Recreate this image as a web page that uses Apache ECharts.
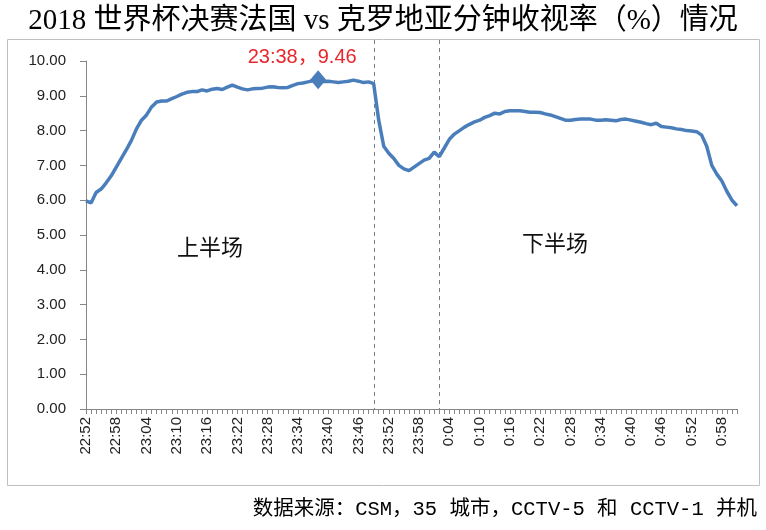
<!DOCTYPE html>
<html><head><meta charset="utf-8">
<script src="https://cdn.jsdelivr.net/npm/echarts@6/dist/echarts.min.js"></script>
<style>html,body{margin:0;padding:0;background:#fff}#c{width:766px;height:530px}</style>
</head><body><div id="c"></div>
<script>
// minute categories 22:52 .. 1:01
var categories = ["22:52","22:53","22:54","22:55","22:56","22:57","22:58","22:59",
"23:00","23:01","23:02","23:03","23:04","23:05","23:06","23:07","23:08","23:09",
"23:10","23:11","23:12","23:13","23:14","23:15","23:16","23:17","23:18","23:19",
"23:20","23:21","23:22","23:23","23:24","23:25","23:26","23:27","23:28","23:29",
"23:30","23:31","23:32","23:33","23:34","23:35","23:36","23:37","23:38","23:39",
"23:40","23:41","23:42","23:43","23:44","23:45","23:46","23:47","23:48","23:49",
"23:50","23:51","23:52","23:53","23:54","23:55","23:56","23:57","23:58","23:59",
"0:00","0:01","0:02","0:03","0:04","0:05","0:06","0:07","0:08","0:09",
"0:10","0:11","0:12","0:13","0:14","0:15","0:16","0:17","0:18","0:19",
"0:20","0:21","0:22","0:23","0:24","0:25","0:26","0:27","0:28","0:29",
"0:30","0:31","0:32","0:33","0:34","0:35","0:36","0:37","0:38","0:39",
"0:40","0:41","0:42","0:43","0:44","0:45","0:46","0:47","0:48","0:49",
"0:50","0:51","0:52","0:53","0:54","0:55","0:56","0:57","0:58","0:59",
"1:00","1:01"];
var ratings = [5.98,5.92,6.22,6.32,6.50,6.70,6.95,7.20,7.45,7.72,
8.05,8.30,8.45,8.68,8.82,8.85,8.85,8.92,8.98,9.05,
9.10,9.12,9.12,9.17,9.14,9.19,9.21,9.18,9.25,9.31,
9.25,9.20,9.17,9.20,9.21,9.22,9.25,9.26,9.24,9.23,
9.24,9.30,9.35,9.37,9.40,9.43,9.46,9.41,9.42,9.40,
9.38,9.40,9.42,9.45,9.42,9.38,9.40,9.35,8.30,7.55,
7.35,7.20,7.00,6.90,6.85,6.95,7.05,7.15,7.20,7.38,
7.25,7.50,7.75,7.90,8.00,8.10,8.18,8.25,8.30,8.38,
8.43,8.50,8.48,8.55,8.57,8.57,8.57,8.55,8.53,8.53,
8.52,8.48,8.45,8.40,8.35,8.30,8.30,8.32,8.33,8.33,
8.33,8.30,8.30,8.31,8.30,8.28,8.32,8.33,8.30,8.27,
8.24,8.20,8.17,8.21,8.12,8.10,8.08,8.05,8.03,8.00,
7.99,7.97,7.87,7.55,7.00,6.75,6.55,6.25,6.00,5.84];
var peakTime = "23:38", peakValue = 9.46;
var halfBreaks = ["23:49", "0:02"];
var yTicks = [0,1,2,3,4,5,6,7,8,9,10];

var chart = echarts.init(document.getElementById('c'));
var baseGraphics = [
  {type:'rect', shape:{x:7.5,y:39.5,width:752,height:446}, style:{fill:'none', stroke:'#c0c0c0', lineWidth:1}, z:-1},
  {type:'text', left:177, top:236, style:{text:'上半场', fontSize:22, fill:'#111', fontFamily:'"Noto Sans CJK SC"'}},
  {type:'text', left:522, top:232, style:{text:'下半场', fontSize:22, fill:'#111', fontFamily:'"Noto Sans CJK SC"'}},
  {type:'text', right:9, top:499, style:{text:'数据来源：CSM，35 城市，CCTV-5 和 CCTV-1 并机', fontSize:20.5, fill:'#000',
    fontFamily:'"Liberation Mono","Noto Sans CJK SC"'}}
];
chart.setOption({
  animation:false,
  title:{text:'2018 世界杯决赛法国 vs 克罗地亚分钟收视率（%）情况', left:'center', top:2,
    textStyle:{fontFamily:'"Liberation Serif","Noto Sans CJK SC"', fontSize:29, fontWeight:'normal', color:'#000'}},
  grid:{left:86, right:29, top:61, bottom:121},
  xAxis:{type:'category', data:categories, boundaryGap:false,
    axisLine:{lineStyle:{color:'#868686', width:1}},
    axisTick:{interval:0, length:5, lineStyle:{color:'#868686'}},
    axisLabel:{interval:5, rotate:90, margin:8, fontSize:15, color:'#222',
      fontFamily:'"Liberation Sans", Arial, sans-serif'},
    splitLine:{show:false}},
  yAxis:{type:'value', min:yTicks[0], max:yTicks[yTicks.length-1], interval:1,
    axisLine:{show:true, lineStyle:{color:'#868686'}},
    axisTick:{show:true, length:6, lineStyle:{color:'#868686'}},
    axisLabel:{margin:20, fontSize:15, color:'#222', fontFamily:'"Liberation Sans", Arial, sans-serif',
      formatter:function(v){return v.toFixed(2);}},
    splitLine:{show:false}},
  series:[{type:'line', data:ratings, showSymbol:false,
    lineStyle:{color:'#4a7ebb', width:3.5}, itemStyle:{color:'#4a7ebb'},
    markPoint:{symbol:'diamond', symbolSize:[16,19], itemStyle:{color:'#4a7ebb'},
      data:[{coord:[peakTime, peakValue]}],
      label:{show:true, position:'top', offset:[-16,2], formatter:peakTime+'，'+peakValue.toFixed(2),
        color:'#e8262b', fontSize:20, fontFamily:'"Liberation Sans","Noto Sans CJK SC"'}}
  }],
  graphic:baseGraphics
});
// half-time dividers placed through the library's own scales
var yBottom = chart.convertToPixel({yAxisIndex:0}, 0);
var lines = halfBreaks.map(function(t){
  var x = Math.round(chart.convertToPixel({xAxisIndex:0}, t)) + 0.5;
  return {type:'line', shape:{x1:x, y1:40, x2:x, y2:yBottom}, style:{stroke:'#6f7f8f', lineWidth:1, lineDash:[4,4]}, z:1};
});
chart.setOption({graphic:baseGraphics.concat(lines)});
</script></body></html>
